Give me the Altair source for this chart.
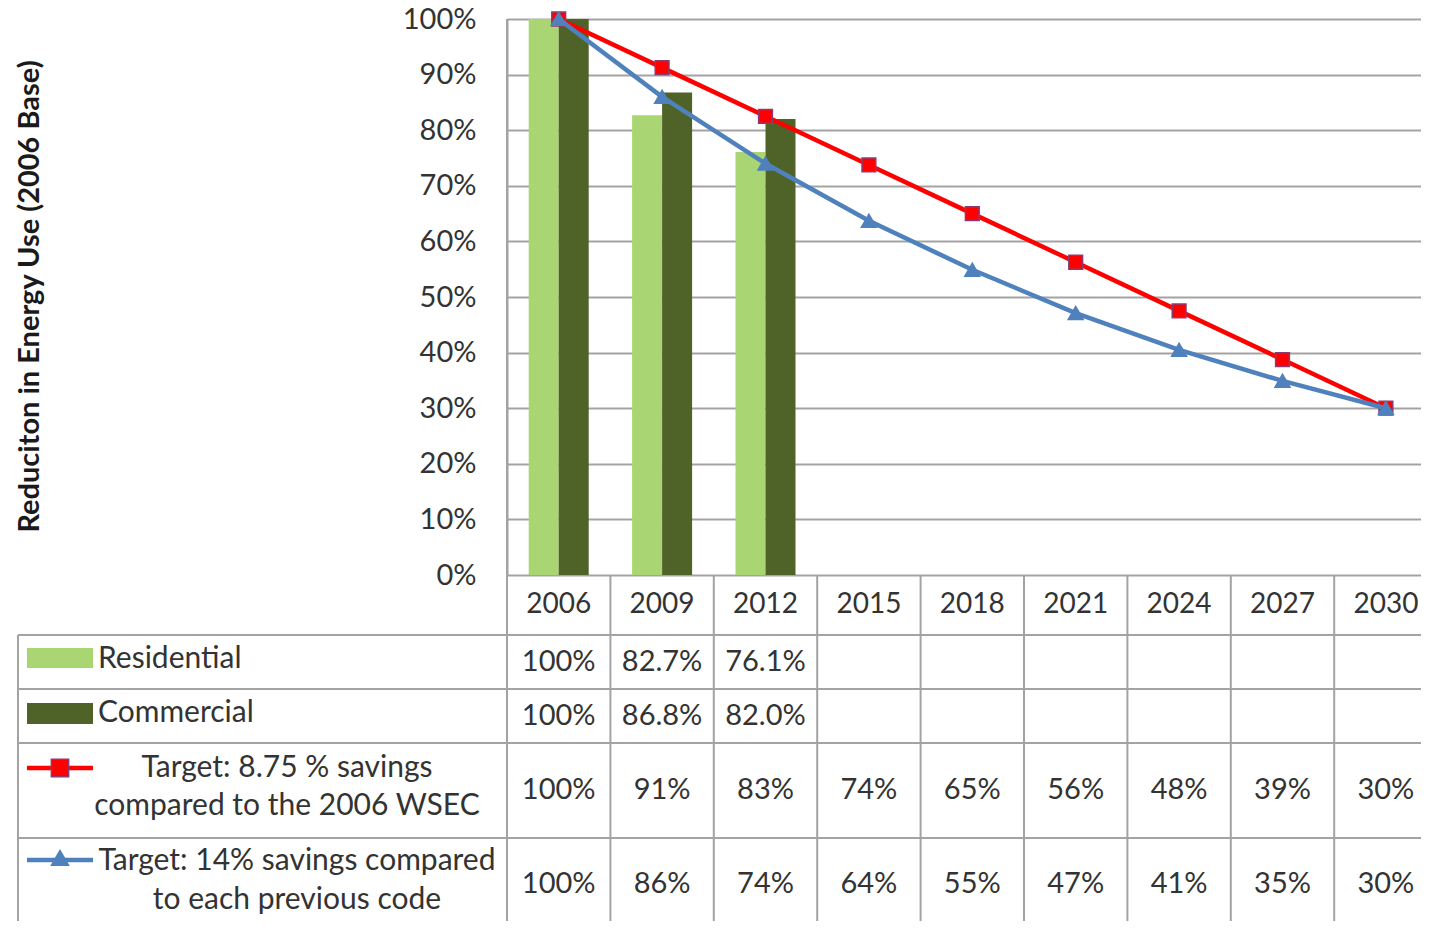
import altair as alt
import pandas as pd

# ---------------- data ----------------
years = ["2006", "2009", "2012", "2015", "2018", "2021", "2024", "2027", "2030"]
residential = [1.000, 0.827, 0.761]
commercial = [1.000, 0.868, 0.820]
target_875 = [1.000, 0.9125, 0.825, 0.7375, 0.650, 0.5625, 0.475, 0.3875, 0.300]
target_14 = [1.000, 0.860, 0.740, 0.637, 0.549, 0.471, 0.405, 0.349, 0.300]

residential_labels = ["100%", "82.7%", "76.1%"]
commercial_labels = ["100%", "86.8%", "82.0%"]
target_875_labels = ["100%", "91%", "83%", "74%", "65%", "56%", "48%", "39%", "30%"]
target_14_labels = ["100%", "86%", "74%", "64%", "55%", "47%", "41%", "35%", "30%"]

series_lines = [
    ["Residential"],
    ["Commercial"],
    ["Target: 8.75 % savings", "compared to the 2006 WSEC"],
    ["Target: 14% savings compared", "to each previous code"],
]
y_ticks = [0.0, 0.1, 0.2, 0.3, 0.4, 0.5, 0.6, 0.7, 0.8, 0.9, 1.0]
y_title = "Reduciton in Energy Use (2006 Base)"

# ---------------- style / layout ----------------
FONT = "Lato"
FS_NUM = 29
FS_YEAR = 28
FS_LBL = 30
TXT = "#333333"
GRID = "#a3a3a3"
C_RES = "#a9d672"
C_COM = "#4f6228"
C_RED = "#ff0000"
C_RED_EDGE = "#8e3a72"
C_BLUE = "#4f81bd"
SVG_W, SVG_H = 1413, 913
PAD_L, PAD_T = 499, 11
W, H = SVG_W - PAD_L, 556
COL = 103.4
X_DOMAIN = [-0.5, W / COL - 0.5]

# table layout (pixels relative to plot top / plot left)
row_bounds = [H, 616, 670, 724, 819]
header_y = 586
row_text_y = [[640], [694], [749, 787], [842, 881]]
value_y = [643, 697, 771, 865]
legend_left = -489
table_bottom = SVG_H - PAD_T
sym_x0, sym_x1, sym_xc = -480, -414, -447
label_left = -409
label_centers = [None, None, -220, -210]

X = alt.X("i:Q", scale=alt.Scale(domain=X_DOMAIN, nice=False, zero=False, padding=0), axis=None)
y_axis = alt.Axis(
    values=y_ticks, format=".0%", labelFont=FONT, labelFontSize=FS_NUM, labelColor=TXT,
    labelPadding=31, ticks=False, tickSize=0, domainColor=GRID, domainWidth=2,
    gridColor=GRID, gridWidth=2, title=y_title, titleFont=FONT, titleFontSize=29,
    titleFontWeight="bold", titleColor="#1a1a1a", titleAngle=270, titleX=-469,
    titleY=277, titleAlign="center", titleBaseline="alphabetic",
)
Y = alt.Y("value:Q", scale=alt.Scale(domain=[0, 1], nice=False, zero=True, padding=0), axis=y_axis)

res_df = pd.DataFrame({"i": range(len(residential)), "value": residential})
com_df = pd.DataFrame({"i": range(len(commercial)), "value": commercial})
red_df = pd.DataFrame({"i": range(len(target_875)), "value": target_875})
blue_df = pd.DataFrame({"i": range(len(target_14)), "value": target_14})

layers = []
layers.append(alt.Chart(res_df).mark_bar(color=C_RES, width=30, xOffset=-15, orient="vertical").encode(x=X, y=Y))
layers.append(alt.Chart(com_df).mark_bar(color=C_COM, width=30, xOffset=15, orient="vertical").encode(x=X, y=Y))
layers.append(alt.Chart(red_df).mark_line(color=C_RED, strokeWidth=4.5).encode(x=X, y=Y))
layers.append(alt.Chart(red_df).mark_point(shape="square", filled=True, fill=C_RED, stroke=C_RED_EDGE,
                                           strokeWidth=1.5, size=190, opacity=1).encode(x=X, y=Y))
layers.append(alt.Chart(blue_df).mark_line(color=C_BLUE, strokeWidth=4.5).encode(x=X, y=Y))
layers.append(alt.Chart(blue_df).mark_point(shape="triangle-up", filled=True, fill=C_BLUE, stroke=C_BLUE,
                                            size=200, opacity=1).encode(x=X, y=Y))

# ---------------- data table ----------------
for k, yb in enumerate(row_bounds[1:]):
    layers.append(
        alt.Chart(pd.DataFrame({"k": [k]})).mark_rule(color=GRID, strokeWidth=2).encode(
            x=alt.value(legend_left), x2=alt.value(W), y=alt.value(yb)
        )
    )
vb_df = pd.DataFrame({"i": [k - 0.5 for k in range(1, len(years))]})
layers.append(
    alt.Chart(vb_df).mark_rule(color=GRID, strokeWidth=2).encode(
        x=X, y=alt.value(row_bounds[0]), y2=alt.value(table_bottom)
    )
)
layers.append(
    alt.Chart(pd.DataFrame({"k": [0]})).mark_rule(color=GRID, strokeWidth=2).encode(
        x=alt.value(0), y=alt.value(0), y2=alt.value(table_bottom)
    )
)
layers.append(
    alt.Chart(pd.DataFrame({"k": [0]})).mark_rule(color=GRID, strokeWidth=2).encode(
        x=alt.value(legend_left), y=alt.value(row_bounds[1]), y2=alt.value(table_bottom)
    )
)

txt = dict(font=FONT, fontSize=FS_NUM, color=TXT, align="center", baseline="middle")
yr_df = pd.DataFrame({"i": range(len(years)), "t": years})
layers.append(alt.Chart(yr_df).mark_text(font=FONT, fontSize=FS_YEAR, color=TXT, align="center",
                                         baseline="middle").encode(x=X, y=alt.value(header_y), text="t:N"))
for labels, yv in zip([residential_labels, commercial_labels, target_875_labels, target_14_labels], value_y):
    d = pd.DataFrame({"i": range(len(labels)), "t": labels})
    layers.append(alt.Chart(d).mark_text(**txt).encode(x=X, y=alt.value(yv), text="t:N"))

# legend column symbols
one = pd.DataFrame({"k": [0]})
layers.append(alt.Chart(one).mark_rect(color=C_RES).encode(
    x=alt.value(sym_x0), x2=alt.value(sym_x1), y=alt.value(629), y2=alt.value(649)))
layers.append(alt.Chart(one).mark_rect(color=C_COM).encode(
    x=alt.value(sym_x0), x2=alt.value(sym_x1), y=alt.value(684), y2=alt.value(705)))
layers.append(alt.Chart(one).mark_rule(color=C_RED, strokeWidth=4.5).encode(
    x=alt.value(sym_x0), x2=alt.value(sym_x1), y=alt.value(row_text_y[2][0])))
layers.append(alt.Chart(one).mark_point(shape="square", filled=True, fill=C_RED, stroke=C_RED_EDGE,
                                        strokeWidth=1.5, size=300, opacity=1).encode(
    x=alt.value(sym_xc), y=alt.value(row_text_y[2][0])))
layers.append(alt.Chart(one).mark_rule(color=C_BLUE, strokeWidth=4.5).encode(
    x=alt.value(sym_x0), x2=alt.value(sym_x1), y=alt.value(row_text_y[3][0] - 1)))
layers.append(alt.Chart(one).mark_point(shape="triangle-up", filled=True, fill=C_BLUE, stroke=C_BLUE,
                                        size=260, opacity=1).encode(
    x=alt.value(sym_xc), y=alt.value(row_text_y[3][0] - 3)))

# legend column labels
for lines, ys, cx in zip(series_lines, row_text_y, label_centers):
    for line, yv in zip(lines, ys):
        d = pd.DataFrame({"t": [line]})
        if cx is None:
            m = alt.Chart(d).mark_text(font=FONT, fontSize=FS_LBL, color=TXT, align="left", baseline="middle").encode(
                x=alt.value(label_left), y=alt.value(yv), text="t:N")
        else:
            m = alt.Chart(d).mark_text(font=FONT, fontSize=FS_LBL, color=TXT, align="center",
                                       baseline="middle").encode(x=alt.value(cx), y=alt.value(yv), text="t:N")
        layers.append(m)

chart = alt.layer(*layers).properties(
    width=W, height=H,
    padding={"left": PAD_L, "top": PAD_T, "right": 0, "bottom": SVG_H - PAD_T - H},
    autosize=alt.AutoSizeParams(type="none"),
    background="white",
).configure_view(stroke=None)

chart.save("out.html", embed_options={"renderer": "svg", "actions": False})
